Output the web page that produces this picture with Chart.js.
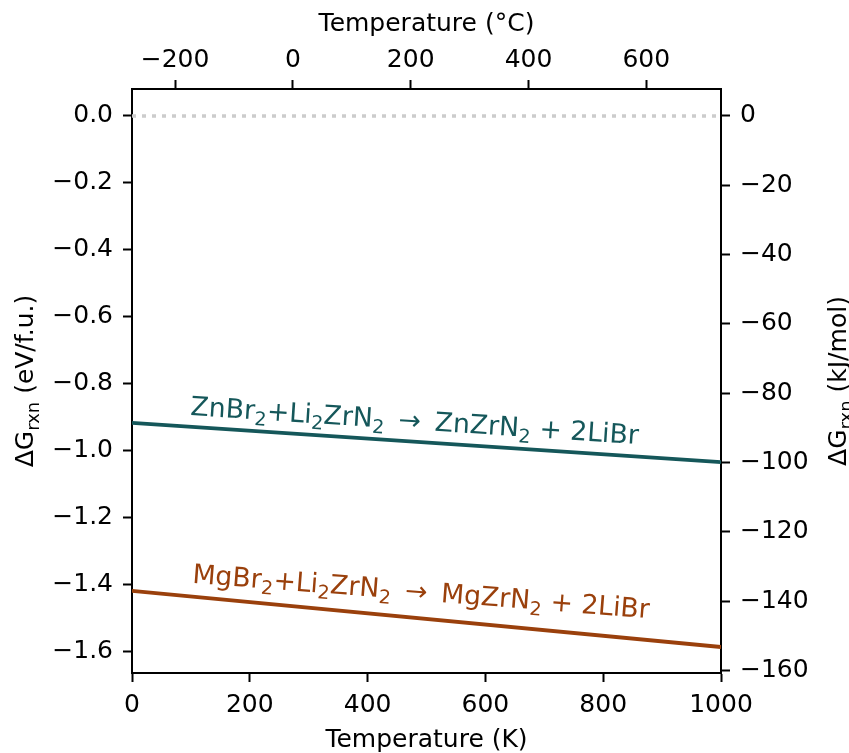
<!DOCTYPE html>
<html lang="en">
<head>
  <meta charset="UTF-8" />
  <title>Reaction free energy vs temperature</title>
  <style>
    body { margin: 0; padding: 0; background: white; }
    canvas { display: block; }
  </style>
</head>
<body>
  <canvas id="grafico" width="849" height="753"></canvas>

  <script src="https://cdn.jsdelivr.net/npm/chart.js@4"></script>
  <script>
    // data
    const temperatureK = [0, 1000];
    const dGZn = [-0.918, -1.035];
    const dGMg = [-1.420, -1.588];
    const zeroLine = [0, 0];

    const kTicks = [0, 200, 400, 600, 800, 1000];
    const cTicks = [-200, 0, 200, 400, 600];
    const evTicks = [0, -0.2, -0.4, -0.6, -0.8, -1.0, -1.2, -1.4, -1.6];
    const kjTicks = [0, -20, -40, -60, -80, -100, -120, -140, -160];

    const EV_TO_KJ = 96.485;
    const evMin = -1.6657, evMax = 0.0807;

    const znColor = '#15575a';
    const mgColor = '#9a400c';
    const FONT = "'DejaVu Sans', sans-serif";

    const minus = s => String(s).replace('-', '\u2212');

    // rich text: list of [text, isSubscript]
    function textWidth(ctx, parts, size) {
      let w = 0;
      parts.forEach(([t, sub]) => {
        ctx.font = (sub ? Math.round(size * 0.7) : size) + 'px ' + FONT;
        w += ctx.measureText(t).width;
      });
      return w;
    }
    function drawRich(ctx, parts, cx, cy, angleDeg, size, color) {
      ctx.save();
      ctx.translate(cx, cy);
      ctx.rotate(angleDeg * Math.PI / 180);
      ctx.fillStyle = color;
      ctx.textBaseline = 'alphabetic';
      ctx.textAlign = 'left';
      let x = -textWidth(ctx, parts, size) / 2;
      const base = size * 0.36;
      parts.forEach(([t, sub]) => {
        const s = sub ? Math.round(size * 0.7) : size;
        ctx.font = s + 'px ' + FONT;
        ctx.fillText(t, x, base + (sub ? size * 0.22 : 0));
        x += ctx.measureText(t).width;
      });
      ctx.restore();
    }

    const arrow = ' \u2009\u2192\u2009 ';
    const znLabel = [['ZnBr', 0], ['2', 1], ['+Li', 0], ['2', 1], ['ZrN', 0], ['2', 1],
      [arrow + 'ZnZrN', 0], ['2', 1], [' + 2LiBr', 0]];
    const mgLabel = [['MgBr', 0], ['2', 1], ['+Li', 0], ['2', 1], ['ZrN', 0], ['2', 1],
      [arrow + 'MgZrN', 0], ['2', 1], [' + 2LiBr', 0]];

    const labelsPlugin = {
      id: 'labels',
      afterDraw(chart) {
        const ctx = chart.ctx;
        const x = chart.scales.x, y = chart.scales.y;
        drawRich(ctx, znLabel, x.getPixelForValue(480), y.getPixelForValue(-0.909), 3.7, 26.7, znColor);
        drawRich(ctx, mgLabel, x.getPixelForValue(491), y.getPixelForValue(-1.420), 4.45, 26.7, mgColor);
        // y axis titles
        const leftTitle = [['\u0394G', 0], ['rxn', 1], [' (eV/f.u.)', 0]];
        const rightTitle = [['\u0394G', 0], ['rxn', 1], [' (kJ/mol)', 0]];
        const midY = (chart.chartArea.top + chart.chartArea.bottom) / 2;
        drawRich(ctx, leftTitle, 24, midY, -90, 25, 'black');
        drawRich(ctx, rightTitle, 837, midY, -90, 25, 'black');
      }
    };

    function axisStyle(extra) {
      return Object.assign({
        grid: { drawOnChartArea: false, drawTicks: true, tickLength: 9, tickWidth: 2, tickColor: 'black', color: 'black' },
        border: { display: true, color: 'black', width: 2 },
      }, extra);
    }

    const tickFont = { family: FONT, size: 25 };

    new Chart(document.getElementById('grafico').getContext('2d'), {
      type: 'line',
      data: {
        datasets: [
          {
            label: 'zero',
            data: temperatureK.map((t, i) => ({ x: t, y: zeroLine[i] })),
            borderColor: '#cccccc',
            borderWidth: 3.5,
            borderDash: [4, 6],
            pointRadius: 0,
            xAxisID: 'x', yAxisID: 'y'
          },
          {
            label: 'Zn',
            data: temperatureK.map((t, i) => ({ x: t, y: dGZn[i] })),
            borderColor: znColor,
            borderWidth: 3.8,
            pointRadius: 0,
            xAxisID: 'x', yAxisID: 'y'
          },
          {
            label: 'Mg',
            data: temperatureK.map((t, i) => ({ x: t, y: dGMg[i] })),
            borderColor: mgColor,
            borderWidth: 3.8,
            pointRadius: 0,
            xAxisID: 'x', yAxisID: 'y'
          }
        ]
      },
      options: {
        responsive: false,
        animation: false,
        layout: { padding: 0 },
        plugins: { legend: { display: false }, tooltip: { enabled: false } },
        scales: {
          x: axisStyle({
            type: 'linear', position: 'bottom', min: 0, max: 1000,
            afterBuildTicks: s => { s.ticks = kTicks.map(v => ({ value: v })); },
            afterFit: s => { s.height = 80; },
            ticks: { color: 'black', font: tickFont, padding: 8, maxRotation: 0, callback: v => minus(v) },
            title: { display: true, text: 'Temperature (K)', color: 'black', font: tickFont, padding: { top: 0, bottom: -2 } }
          }),
          x2: axisStyle({
            type: 'linear', position: 'top', min: -273.15, max: 726.85,
            afterBuildTicks: s => { s.ticks = cTicks.map(v => ({ value: v })); },
            afterFit: s => { s.height = 89; },
            ticks: { color: 'black', font: tickFont, padding: 5, maxRotation: 0, callback: v => minus(v) },
            title: { display: true, text: 'Temperature (\u00b0C)', color: 'black', font: tickFont, padding: { top: 9, bottom: 0 } }
          }),
          y: axisStyle({
            type: 'linear', position: 'left', min: evMin, max: evMax,
            afterBuildTicks: s => { s.ticks = evTicks.map(v => ({ value: v })); },
            afterFit: s => { s.width = 132; },
            ticks: { color: 'black', font: tickFont, padding: 10, callback: v => minus(v.toFixed(1)) }
          }),
          y2: axisStyle({
            type: 'linear', position: 'right', min: evMin * EV_TO_KJ, max: evMax * EV_TO_KJ,
            afterBuildTicks: s => { s.ticks = kjTicks.map(v => ({ value: v })); },
            afterFit: s => { s.width = 128; },
            ticks: { color: 'black', font: tickFont, padding: 10, callback: v => minus(v) }
          })
        }
      },
      plugins: [labelsPlugin]
    });
  </script>
</body>
</html>
